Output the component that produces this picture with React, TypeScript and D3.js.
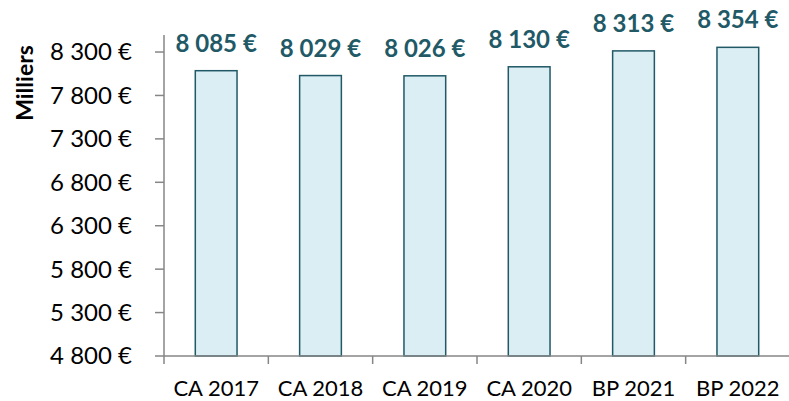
import React from "react";
import * as d3 from "d3";

const categories = ["CA 2017", "CA 2018", "CA 2019", "CA 2020", "BP 2021", "BP 2022"];
const values = [8085, 8029, 8026, 8130, 8313, 8354];
const yTicks = [4800, 5300, 5800, 6300, 6800, 7300, 7800, 8300];
const yLabel = "Milliers";

const W = 789;
const H = 401;
const margin = { left: 164, right: 0, top: 35, bottom: 45 };

const fmt = (v: number) => {
  const s = Math.round(v).toString();
  return s.replace(/\B(?=(\d{3})+(?!\d))/g, " ") + " €";
};

export default function App() {
  const x = d3
    .scaleBand<string>()
    .domain(categories)
    .range([margin.left, W - margin.right + 1])
    .paddingInner(0.6)
    .paddingOuter(0.3);
  const band = d3.scaleBand<string>().domain(categories).range([margin.left, W - margin.right + 1]);
  const y = d3.scaleLinear().domain([4800, 8496]).range([H - margin.bottom, margin.top]);
  const axisColor = "#868686";
  const dark = "#215967";
  const font = "Lato, 'Open Sans', sans-serif";
  const baseY = y(4800);
  return (
    <svg
      width={W}
      height={H}
      style={{ position: "absolute", left: 0, top: 0, background: "#fff" }}
      fontFamily={font}
    >
      {categories.map((c, i) => (
        <g key={c}>
          <rect
            x={x(c)!}
            y={y(values[i])}
            width={x.bandwidth()}
            height={baseY - y(values[i])}
            fill="#DAEEF3"
            stroke={dark}
            strokeWidth={1.5}
          />
          <text
            x={x(c)! + x.bandwidth() / 2}
            y={y(values[i]) - 19}
            textAnchor="middle"
            fontSize={24}
            fontWeight="bold"
            fill={dark}
          >
            {fmt(values[i])}
          </text>
          <text
            x={band(c)! + band.bandwidth() / 2}
            y={396}
            textAnchor="middle"
            fontSize={22}
            fill="#000"
          >
            {c}
          </text>
        </g>
      ))}
      {/* y axis */}
      <line x1={margin.left} x2={margin.left} y1={margin.top} y2={baseY + 8} stroke={axisColor} strokeWidth={1.5} />
      {yTicks.map((t) => (
        <g key={t}>
          <line x1={margin.left - 9} x2={margin.left} y1={y(t)} y2={y(t)} stroke={axisColor} strokeWidth={1.5} />
          <text x={132} y={y(t)} dy="0.35em" textAnchor="end" fontSize={24} fill="#000">
            {fmt(t)}
          </text>
        </g>
      ))}
      {/* x axis */}
      <line x1={margin.left} x2={W} y1={baseY} y2={baseY} stroke={axisColor} strokeWidth={1.5} />
      {categories.map((c) => (
        <line
          key={"t" + c}
          x1={band(c)! + band.bandwidth()}
          x2={band(c)! + band.bandwidth()}
          y1={baseY}
          y2={baseY + 8}
          stroke={axisColor}
          strokeWidth={1.5}
        />
      ))}
      <text
        transform={`translate(33, 83) rotate(-90)`}
        textAnchor="middle"
        fontSize={23}
        fontWeight="bold"
        fill="#000"
      >
        {yLabel}
      </text>
    </svg>
  );
}
